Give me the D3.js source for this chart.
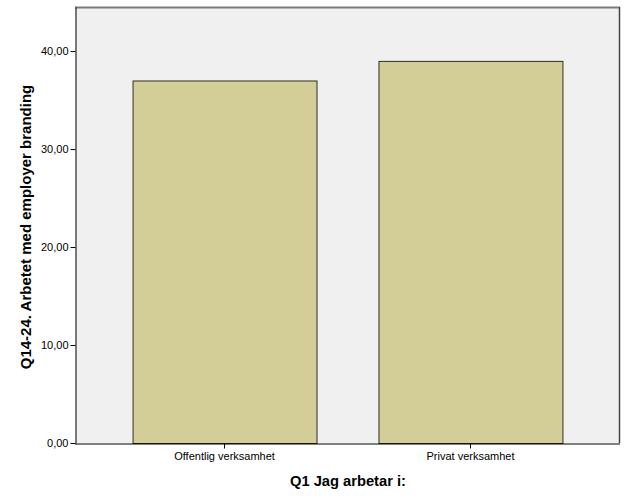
<!DOCTYPE html>
<html><head><meta charset="utf-8">
<script src="https://cdn.jsdelivr.net/npm/d3@7"></script>
<style>body{margin:0;background:#fff}svg{display:block;font-family:Arial,"Liberation Sans",sans-serif}</style>
</head><body><svg id="c" width="629" height="504"></svg>
<script>
const categories = ["Offentlig verksamhet", "Privat verksamhet"];
const values = [37.0, 39.0];
const yTicks = [0, 10, 20, 30, 40];
const yTitle = "Q14-24. Arbetet med employer branding";
const xTitle = "Q1 Jag arbetar i:";

const svg = d3.select("#c");
const L = 75, R = 620, T = 7, B = 443;
const x = d3.scaleBand().domain(categories).range([L, R]).paddingInner(0.252).paddingOuter(0.234);
const y = d3.scaleLinear().domain([0, 44.5]).range([B, T]);

svg.append("rect").attr("x", L).attr("y", T).attr("width", R - L).attr("height", B - T).attr("fill", "#f0f0f0");
svg.append("line").attr("x1", L).attr("x2", R).attr("y1", T + 0.5).attr("y2", T + 0.5).attr("stroke", "#7a7a7a").attr("stroke-width", 2);
svg.append("line").attr("x1", R - 0.5).attr("x2", R - 0.5).attr("y1", T).attr("y2", B).attr("stroke", "#444").attr("stroke-width", 1.5);

svg.selectAll("rect.bar").data(values).enter().append("rect").attr("class", "bar")
  .attr("x", (d, i) => x(categories[i]) + 0.5)
  .attr("y", d => y(d) + 0.5)
  .attr("width", x.bandwidth())
  .attr("height", d => B - y(d))
  .attr("fill", "#d3ce97").attr("stroke", "#2e2e22").attr("stroke-width", 1);

const yAxis = svg.append("g").attr("transform", `translate(${L + 0.5},0)`)
  .call(d3.axisLeft(y).tickValues(yTicks).tickSize(5).tickSizeOuter(0).tickPadding(2).tickFormat(d => d3.format(".2f")(d).replace(".", ",")));
yAxis.select(".domain").attr("stroke", "#000");
yAxis.selectAll("text").attr("font-size", 11).attr("fill", "#000").attr("font-family", "Arial, 'Liberation Sans', sans-serif");

const xAxis = svg.append("g").attr("transform", `translate(0,${B + 0.5})`)
  .call(d3.axisBottom(x).tickSize(5).tickSizeOuter(0).tickPadding(4));
xAxis.select(".domain").attr("stroke", "#000").attr("d", `M${L},0.5H${R}`);
xAxis.selectAll("text").attr("font-size", 11).attr("fill", "#000").attr("font-family", "Arial, 'Liberation Sans', sans-serif");

svg.append("text").attr("x", 348).attr("y", 486).attr("text-anchor", "middle")
  .attr("font-size", 14.7).attr("font-weight", "bold").text(xTitle);
svg.append("text").attr("transform", "translate(31,227) rotate(-90)").attr("text-anchor", "middle")
  .attr("font-size", 15).attr("font-weight", "bold").text(yTitle);
</script></body></html>
